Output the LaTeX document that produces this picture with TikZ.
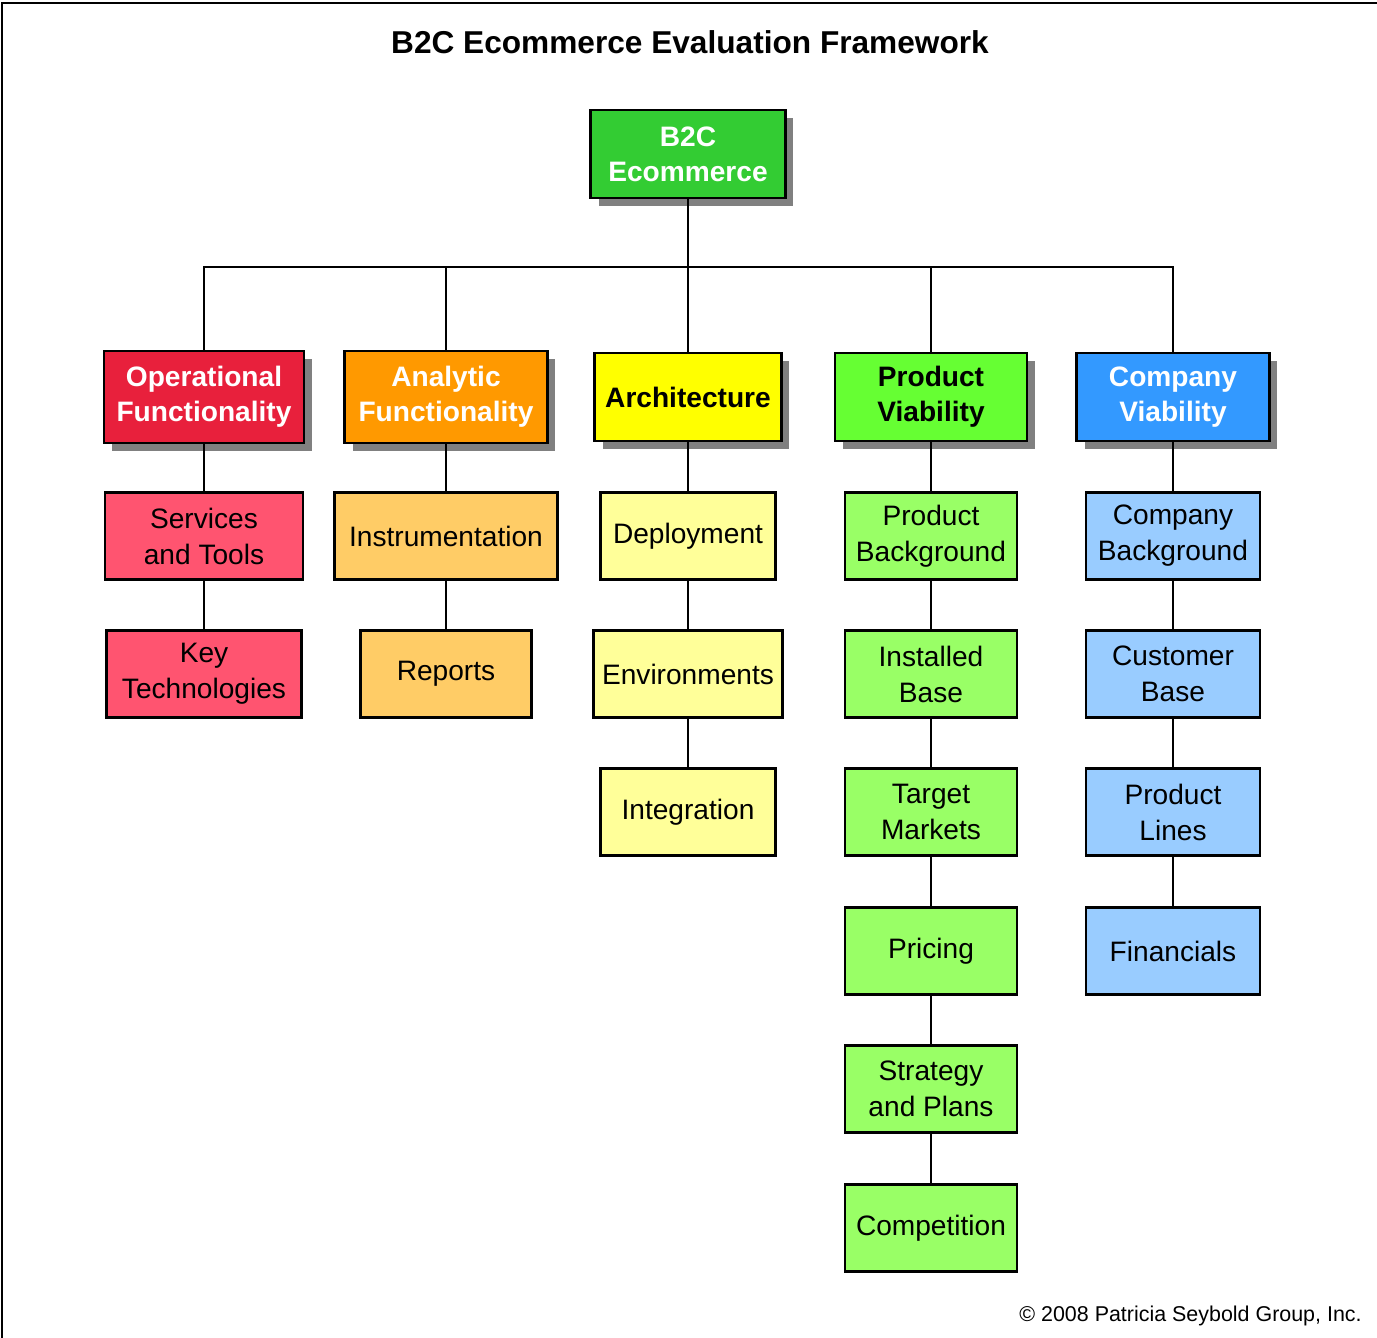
\documentclass[tikz,border=0pt]{standalone}
\usepackage{fontspec}
\setmainfont{Liberation Sans}
\usetikzlibrary{shadows}

\definecolor{topgreen}{HTML}{33CC33}
\definecolor{opred}{HTML}{E8203C}
\definecolor{oplight}{HTML}{FF5470}
\definecolor{anorange}{HTML}{FF9900}
\definecolor{anlight}{HTML}{FFCC66}
\definecolor{archyellow}{HTML}{FFFF00}
\definecolor{archlight}{HTML}{FFFF99}
\definecolor{pvgreen}{HTML}{66FF33}
\definecolor{pvlight}{HTML}{99FF66}
\definecolor{cvblue}{HTML}{3399FF}
\definecolor{cvlight}{HTML}{99CCFF}

\tikzset{
    headbox/.style={draw=black, line width=1.5pt, align=center,
        minimum height=1.76cm, inner sep=2pt,
        font=\fontsize{16}{20}\selectfont\bfseries,
        drop shadow={shadow xshift=0.16cm, shadow yshift=-0.16cm, fill=black!50, opacity=1}},
    subbox/.style={draw=black, line width=1.2pt, align=center,
        minimum height=1.74cm, inner sep=2pt,
        font=\fontsize{16}{20.5}\selectfont},
    link/.style={line width=1.1pt}
}

\begin{document}
\begin{tikzpicture}[x=0.02cm, y=-0.02cm]
    \useasboundingbox (0,0) rectangle (1377,1338);
    % frame
    \draw[line width=1.7pt] (2,1338) -- (2,3) -- (1377,3);

    % title and footer
    \node[font=\fontsize{18}{22}\selectfont\bfseries] (title) at (690,42) {B2C Ecommerce Evaluation Framework};
    \node[font=\fontsize{12.2}{14}\selectfont, anchor=east, inner sep=0pt] (copy) at (1362,1316) {© 2008 Patricia Seybold Group, Inc.};

    % root
    \node[headbox, fill=topgreen, text=white, minimum width=3.9cm] (root) at (688,154) {B2C\\Ecommerce};

    % headers
    \node[headbox, fill=opred, text=white, minimum width=4.0cm, minimum height=1.84cm] (op) at (204,397) {Operational\\Functionality};
    \node[headbox, fill=anorange, text=white, minimum width=4.06cm, minimum height=1.84cm] (an) at (446,397) {Analytic\\Functionality};
    \node[headbox, fill=archyellow, text=black, minimum width=3.74cm] (arch) at (688,397) {Architecture};
    \node[headbox, fill=pvgreen, text=black, minimum width=3.84cm] (pv) at (931,397) {Product\\Viability};
    \node[headbox, fill=cvblue, text=white, minimum width=3.86cm] (cv) at (1173,397) {Company\\Viability};

    % bus
    \coordinate (bus) at (688,267);
    \draw[link] (root) -- (arch);
    \draw[link] (op.north) -- (op.north |- bus) -- (cv.north |- bus) -- (cv.north);
    \draw[link] (an.north) -- (an.north |- bus);
    \draw[link] (pv.north) -- (pv.north |- bus);

    % operational functionality
    \node[subbox, fill=oplight, minimum width=3.96cm] (svc) at (204,536) {Services\\and Tools};
    \node[subbox, fill=oplight, minimum width=3.9cm] (keytech) at (204,674) {Key\\Technologies};
    \draw[link] (op) -- (svc) -- (keytech);

    % analytic functionality
    \node[subbox, fill=anlight, minimum width=4.46cm] (instr) at (446,536) {Instrumentation};
    \node[subbox, fill=anlight, minimum width=3.42cm] (reports) at (446,674) {Reports};
    \draw[link] (an) -- (instr) -- (reports);

    % architecture
    \node[subbox, fill=archlight, minimum width=3.5cm] (deploy) at (688,536) {Deployment};
    \node[subbox, fill=archlight, minimum width=3.78cm] (envs) at (688,674) {Environments};
    \node[subbox, fill=archlight, minimum width=3.5cm] (integ) at (688,812) {Integration};
    \draw[link] (arch) -- (deploy) -- (envs) -- (integ);

    % product viability
    \node[subbox, fill=pvlight, minimum width=3.44cm] (prodbg) at (931,536) {Product\\Background};
    \node[subbox, fill=pvlight, minimum width=3.44cm] (instbase) at (931,674) {Installed\\Base};
    \node[subbox, fill=pvlight, minimum width=3.44cm] (target) at (931,812) {Target\\Markets};
    \node[subbox, fill=pvlight, minimum width=3.44cm] (pricing) at (931,951) {Pricing};
    \node[subbox, fill=pvlight, minimum width=3.44cm] (strategy) at (931,1089) {Strategy\\and Plans};
    \node[subbox, fill=pvlight, minimum width=3.44cm] (compet) at (931,1228) {Competition};
    \draw[link] (pv) -- (prodbg) -- (instbase) -- (target) -- (pricing) -- (strategy) -- (compet);

    % company viability
    \node[subbox, fill=cvlight, minimum width=3.48cm] (compbg) at (1173,536) {Company\\Background};
    \node[subbox, fill=cvlight, minimum width=3.48cm] (custbase) at (1173,674) {Customer\\Base};
    \node[subbox, fill=cvlight, minimum width=3.48cm] (lines) at (1173,812) {Product\\Lines};
    \node[subbox, fill=cvlight, minimum width=3.48cm] (fin) at (1173,951) {Financials};
    \draw[link] (cv) -- (compbg) -- (custbase) -- (lines) -- (fin);
\end{tikzpicture}
\end{document}
